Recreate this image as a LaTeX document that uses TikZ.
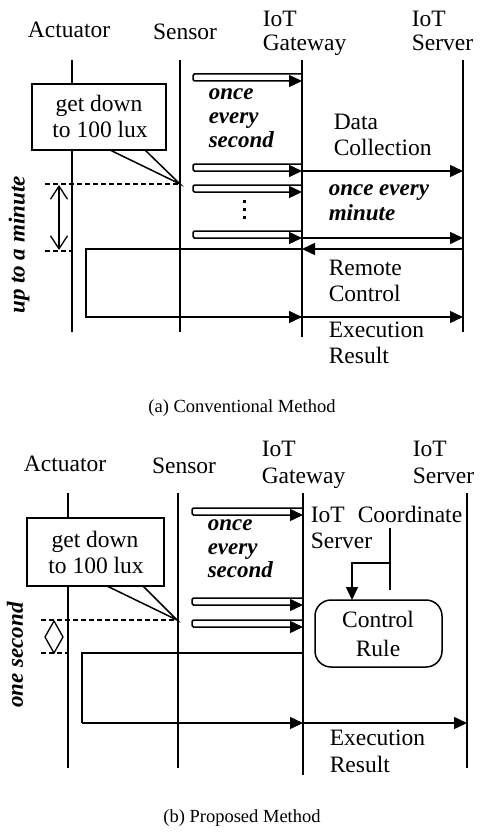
\documentclass[tikz,border=0pt]{standalone}
\usepackage{fontspec}
\setmainfont{Liberation Serif}
\usetikzlibrary{arrows.meta}
\newcommand\sensarrow[4]{%
  \draw[tip, rounded corners=1.5pt] (#2,#3) -- (#1,#3) -- (#1,#4) -- (#2,#4);}
\begin{document}
\begin{tikzpicture}[x=1pt,y=-1pt,line width=1.5pt,
  lbl/.style={font=\fontsize{23.5}{25}\selectfont, inner sep=0pt, anchor=base west},
  ctr/.style={font=\fontsize{23.5}{25}\selectfont, inner sep=0pt, anchor=base},
  ital/.style={font=\fontsize{23}{25}\selectfont\bfseries\itshape, inner sep=0pt, anchor=base west},
  captext/.style={font=\fontsize{18.5}{20}\selectfont, inner sep=0pt, anchor=base},
  tip/.style={-{Triangle[length=13pt,width=12pt]}},
  barb/.style={{Straight Barb[length=13pt,width=17pt]}-{Straight Barb[length=13pt,width=17pt]}},
  callout/.style={draw, fill=white},
  dsh/.style={dashed, dash pattern=on 5pt off 3pt, line width=1.2pt}]
\useasboundingbox (0,0) rectangle (484,832);

%%%%%%%%%%%%%%%% (a) %%%%%%%%%%%%%%%%
\node[ctr] (aact) at (69,38) {Actuator};
\node[ctr] (asen) at (185,40) {Sensor};
\node[lbl] (agw1) at (262,27) {IoT};
\node[lbl] (agw2) at (262,51) {Gateway};
\node[lbl] (asv1) at (411,27) {IoT};
\node[lbl] (asv2) at (411,51) {Server};

% lifelines
\coordinate (aAt) at (72,60);  \coordinate (aAb) at (72,332);
\coordinate (aSt) at (180,60); \coordinate (aSb) at (180,332);
\coordinate (aGt) at (302,60); \coordinate (aGb) at (302,337);
\coordinate (aVt) at (463,60); \coordinate (aVb) at (463,332);
\draw (aAt) -- (aAb);
\draw (aSt) -- (aSb);
\draw (aGt) -- (aGb);
\draw (aVt) -- (aVb);

% sensor to gateway
\sensarrow{193}{302}{74}{81}
\sensarrow{193}{302}{164}{171}
\sensarrow{193}{302}{185}{192}
\sensarrow{193}{302}{231}{238}
\foreach \yy in {201,209,217} \fill (242.5,\yy-1.5) rectangle (245.5,\yy+1.5);

\node[ital] (aos1) at (208,100) {once};
\node[ital] (aos2) at (208,124) {every};
\node[ital] (aos3) at (208,147) {second};

% gateway to server
\coordinate (aG1) at (302,171); \coordinate (aV1) at (463,171);
\coordinate (aG2) at (302,238); \coordinate (aV2) at (463,238);
\draw[tip] (aG1) -- (aV1);
\draw[tip] (aG2) -- (aV2);
\node[lbl] (adc1) at (333,130) {Data};
\node[lbl] (adc2) at (333,155) {Collection};
\node[ital] (aom1) at (328,195) {once every};
\node[ital] (aom2) at (328,220) {minute};

% remote control
\coordinate (aV3) at (463,249); \coordinate (aG3) at (302,249);
\coordinate (aL3) at (86,249);  \coordinate (aL4) at (86,317);
\coordinate (aG4) at (302,317); \coordinate (aV4) at (463,317);
\draw[tip] (aV3) -- (aG3);
\draw (aG3) -- (aL3) -- (aL4) -- (aG4);
\draw[tip] (aL4) -- (aG4);
\draw[tip] (aG4) -- (aV4);
\node[lbl] (arc1) at (328,275) {Remote};
\node[lbl] (arc2) at (328,301) {Control};
\node[lbl] (aer1) at (328,337) {Execution};
\node[lbl] (aer2) at (328,363) {Result};

% callout
\draw[callout] (32,84) rectangle (166,150);
\coordinate (aP) at (180,184);
\draw (110,150) -- (aP) -- (145,150);
\node[ctr] (ag1) at (99,112) {get down};
\node[ctr] (ag2) at (100,138) {to 100 lux};

% interval
\coordinate (aD1) at (45,184); \coordinate (aD2) at (45,251);
\draw[dsh] (aD1) -- (aP);
\draw[dsh] (aD2) -- (72,251);
\draw[barb, line width=1.3pt] (59,185) -- (59,250);
\node[font=\fontsize{23}{25}\selectfont\bfseries\itshape, inner sep=0pt, rotate=90] (aup) at (19,245) {up to a minute};

\node[captext] (acap) at (242,412) {(a) Conventional Method};

%%%%%%%%%%%%%%%% (b) %%%%%%%%%%%%%%%%
\node[ctr] (bact) at (65,471) {Actuator};
\node[ctr] (bsen) at (184,473) {Sensor};
\node[lbl] (bgw1) at (261,456) {IoT};
\node[lbl] (bgw2) at (261,483) {Gateway};
\node[lbl] (bsv1) at (412,456) {IoT};
\node[lbl] (bsv2) at (412,483) {Server};

\coordinate (bAt) at (68,493);  \coordinate (bAb) at (68,768);
\coordinate (bSt) at (178,493); \coordinate (bSb) at (178,768);
\coordinate (bGt) at (303,493); \coordinate (bGb) at (303,775);
\coordinate (bVt) at (467,493); \coordinate (bVb) at (467,768);
\draw (bAt) -- (bAb);
\draw (bSt) -- (bSb);
\draw (bGt) -- (bGb);
\draw (bVt) -- (bVb);

\sensarrow{192}{303}{508}{515}
\sensarrow{192}{303}{598}{605}
\sensarrow{192}{303}{620}{627}

\node[ital] (bos1) at (207,530) {once};
\node[ital] (bos2) at (207,554) {every};
\node[ital] (bos3) at (207,577) {second};

% coordinate server
\node[lbl] (bcs1) at (310,522) {IoT};
\node[lbl] (bcs2) at (357,522) {Coordinate};
\node[lbl] (bcs3) at (310,548) {Server};
\coordinate (bC1) at (390,528); \coordinate (bC2) at (390,590);
\coordinate (bC3) at (390,563); \coordinate (bC4) at (352,563);
\draw (bC1) -- (bC2);
\draw[tip] (bC3) -- (bC4) -- (352,600);
\draw[rounded corners=16pt] (315,600) rectangle (442,667);
\node[ctr] (bcr1) at (378,627) {Control};
\node[ctr] (bcr2) at (378,656) {Rule};

% control path
\coordinate (bG3) at (303,653); \coordinate (bL3) at (82,653);
\coordinate (bL4) at (82,723);  \coordinate (bG4) at (303,723);
\coordinate (bV4) at (467,723);
\draw (bG3) -- (bL3) -- (bL4);
\draw[tip] (bL4) -- (bG4);
\draw[tip] (bG4) -- (bV4);
\node[lbl] (ber1) at (329,745) {Execution};
\node[lbl] (ber2) at (329,772) {Result};

% callout
\draw[callout] (27,518) rectangle (164,586);
\coordinate (bP) at (177,620);
\draw (107,586) -- (bP) -- (143,586);
\node[ctr] (bg1) at (95,547) {get down};
\node[ctr] (bg2) at (96,573) {to 100 lux};

% interval
\draw[dsh] (41,620) -- (bP);
\draw[dsh] (41,653) -- (68,653);
\draw[line width=1.3pt] (54,621) -- (63,637) -- (54,653) -- (45,637) -- cycle;
\node[font=\fontsize{23}{25}\selectfont\bfseries\itshape, inner sep=0pt, rotate=90] (bone) at (15,655) {one second};

\node[captext] (bcap) at (242,822) {(b) Proposed Method};
\end{tikzpicture}
\end{document}
